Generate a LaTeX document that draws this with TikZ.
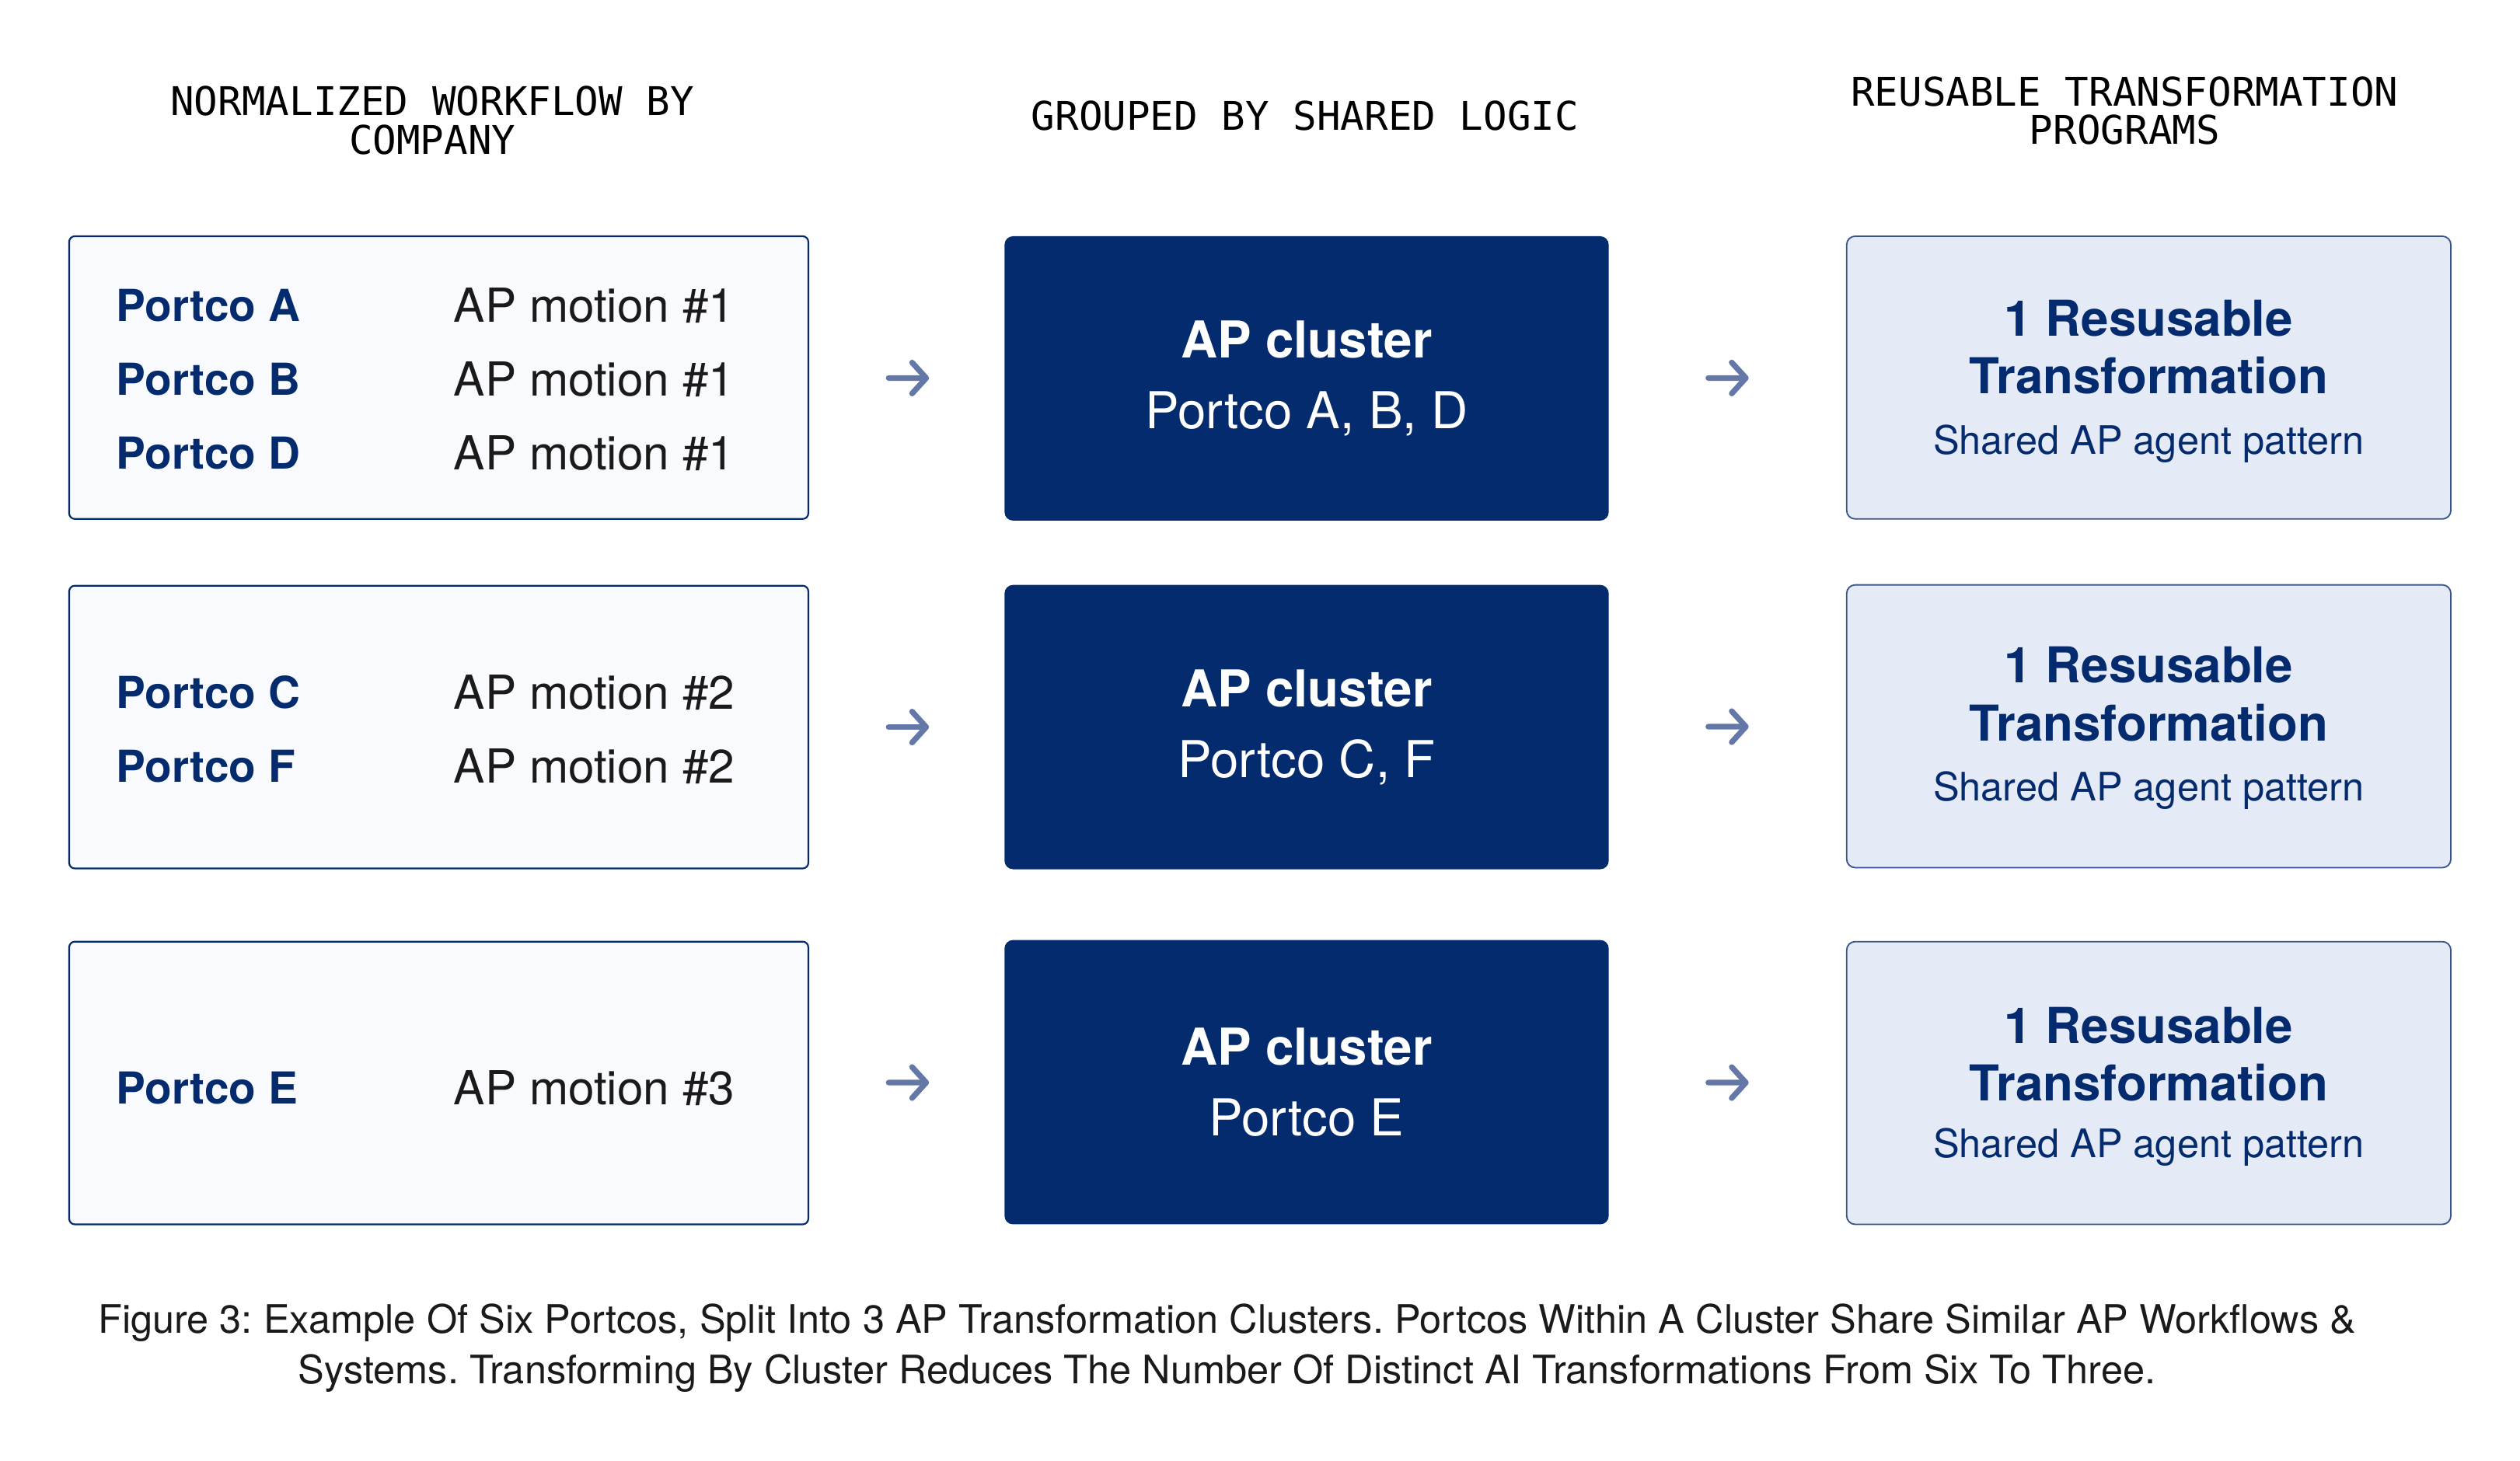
\documentclass[tikz,border=0pt]{standalone}
\usepackage{fontspec}
\setmainfont{TeX Gyre Heros}
\setmonofont{DejaVu Sans Mono}
\usetikzlibrary{arrows.meta}
\definecolor{navy}{HTML}{052B6F}
\definecolor{paleblue}{HTML}{E4EAF6}
\definecolor{offwhite}{HTML}{F8FAFD}
\definecolor{slate}{HTML}{6478A8}
\definecolor{ink}{HTML}{1A1A1A}
\frenchspacing
\begin{document}
\begin{tikzpicture}[x=0.02cm, y=-0.02cm,
		heading/.style={font=\fontsize{14}{13.6}\selectfont\ttfamily, align=center, text=black},
		workbox/.style={draw=navy, fill=offwhite, line width=0.6pt, rounded corners=2pt,
			minimum width=9.2cm, minimum height=3.52cm, outer sep=0pt},
		clusterbox/.style={fill=navy, rounded corners=3pt, minimum width=7.52cm, minimum height=3.54cm,
			outer sep=0pt, text=white, align=center, font=\fontsize{18}{25}\selectfont},
		programbox/.style={draw=navy!80, fill=paleblue, line width=0.5pt, rounded corners=3pt,
			minimum width=7.52cm, minimum height=3.52cm, outer sep=0pt},
		company/.style={anchor=west, inner sep=0pt, text=navy, font=\fontsize{15.6}{19}\selectfont\bfseries},
		motion/.style={anchor=west, inner sep=0pt, text=ink, font=\fontsize{16.6}{19}\selectfont},
		programtitle/.style={inner sep=0pt, text=navy, align=center, font=\fontsize{17.5}{20.5}\selectfont\bfseries},
		programnote/.style={inner sep=0pt, text=navy, font=\fontsize{13.9}{16}\selectfont},
		flow/.style={draw=slate, line width=2pt, line cap=round, -{Straight Barb[length=5pt,width=11pt,round]}}
	]
	% Fix the page size
	\useasboundingbox (0,0) rectangle (1568,909);

	% Draw headings
	\node[heading] (h1) at (269,75) {NORMALIZED WORKFLOW BY\\COMPANY};
	\node[heading] (h2) at (812,72) {GROUPED BY SHARED LOGIC};
	\node[heading] (h3) at (1322,69) {REUSABLE TRANSFORMATION\\PROGRAMS};

	% Draw workflow boxes
	\node[workbox] (w1) at (273,235) {};
	\node[workbox] (w2) at (273,452.5) {};
	\node[workbox] (w3) at (273,674) {};

	% Draw companies and motions
	\node[company] (pa) at (72,190) {Portco A};
	\node[company] (pb) at (72,236) {Portco B};
	\node[company] (pd) at (72,282) {Portco D};
	\node[motion] (ma) at (282,190) {AP motion \#1};
	\node[motion] (mb) at (282,236) {AP motion \#1};
	\node[motion] (md) at (282,282) {AP motion \#1};

	\node[company] (pc) at (72,431) {Portco C};
	\node[company] (pf) at (72,477) {Portco F};
	\node[motion] (mc) at (282,431) {AP motion \#2};
	\node[motion] (mf) at (282,477) {AP motion \#2};

	\node[company] (pe) at (72,677) {Portco E};
	\node[motion] (me) at (282,677) {AP motion \#3};

	% Draw cluster boxes
	\node[clusterbox] (c1) at (813,235.5) {\textbf{AP cluster}\\Portco A, B, D};
	\node[clusterbox] (c2) at (813,452.5) {\textbf{AP cluster}\\Portco C, F};
	\node[clusterbox] (c3) at (813,673.5) {\textbf{AP cluster}\\Portco E};

	% Draw program boxes
	\node[programbox] (r1) at (1337,235) {};
	\node[programbox] (r2) at (1337,452) {};
	\node[programbox] (r3) at (1337,674) {};

	\node[programtitle] (t1) at (1337,216) {1 Resusable\\Transformation};
	\node[programnote] (n1) at (1337,276) {Shared AP agent pattern};
	\node[programtitle] (t2) at (1337,432) {1 Resusable\\Transformation};
	\node[programnote] (n2) at (1337,492) {Shared AP agent pattern};
	\node[programtitle] (t3) at (1337,656) {1 Resusable\\Transformation};
	\node[programnote] (n3) at (1337,714) {Shared AP agent pattern};

	% Draw arrows
	\draw[flow, shorten <=1cm, shorten >=0.94cm] (w1) -- (c1);
	\draw[flow, shorten <=1cm, shorten >=0.94cm] (w2) -- (c2);
	\draw[flow, shorten <=1cm, shorten >=0.94cm] (w3) -- (c3);
	\draw[flow, shorten <=1.24cm, shorten >=1.22cm] (c1) -- (r1);
	\draw[flow, shorten <=1.24cm, shorten >=1.22cm] (c2) -- (r2);
	\draw[flow, shorten <=1.24cm, shorten >=1.22cm] (c3) -- (r3);

	% Draw caption
	\node[align=center, text=ink, font=\fontsize{13.9}{18.1}\selectfont] (cap) at (763.5,839)
		{Figure 3: Example Of Six Portcos, Split Into 3 AP Transformation Clusters. Portcos Within A Cluster Share Similar AP Workflows \&\\
		Systems. Transforming By Cluster Reduces The Number Of Distinct AI Transformations From Six To Three.};
\end{tikzpicture}
\end{document}
